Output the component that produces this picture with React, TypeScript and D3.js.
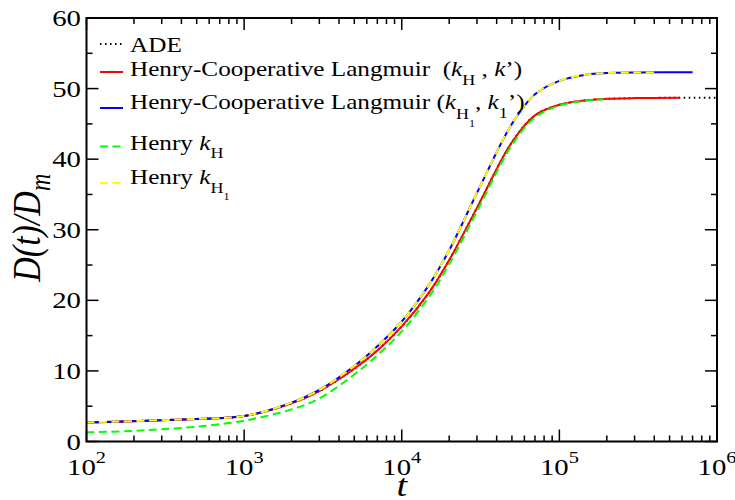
import React from 'react';
import * as d3 from 'd3';

const width = 735;
const height = 500;
const plot = { left: 86.5, right: 717, top: 18, bottom: 441.5 };
const stretch = 1.2;
const serif = '"Liberation Serif", "Times New Roman", serif';

// x: time t (log), y: D(t)/Dm
const tAde = [100, 500, 1000, 2000, 3000, 5000, 7000, 1e4, 1.5e4, 2e4, 3e4, 5e4, 7e4, 1e5, 1.5e5, 2e5, 3e5, 5.8e5, 1e6];
const dAde = [2.7, 3.2, 3.6, 5.4, 7.15, 10.3, 12.9, 16.3, 21.2, 25.7, 33.1, 42.4, 46.2, 47.7, 48.35, 48.55, 48.65, 48.7, 48.7];

const tRed = [100, 500, 1000, 2000, 3000, 5000, 7000, 1e4, 1.5e4, 2e4, 3e4, 5e4, 7e4, 1e5, 1.5e5, 2e5, 3e5, 5.8e5];
const dRed = [2.7, 3.2, 3.6, 5.4, 7.15, 10.3, 12.9, 16.3, 21.2, 25.7, 33.1, 42.4, 46.2, 47.7, 48.35, 48.55, 48.65, 48.7];

const tBlue = [100, 500, 1000, 2000, 3000, 5000, 7000, 1e4, 1.5e4, 2e4, 3e4, 5e4, 7e4, 1e5, 1.5e5, 2e5, 3e5, 7e5];
const dBlue = [2.7, 3.2, 3.6, 5.5, 7.3, 10.7, 13.5, 17.0, 22.3, 27.1, 35.2, 45.0, 49.2, 51.1, 52.0, 52.2, 52.28, 52.3];

const tGreen = [100, 200, 300, 500, 1000, 2000, 3000, 5000, 7000, 1e4, 1.5e4, 2e4, 3e4, 5e4, 7e4, 1e5, 1.5e5, 1.9e5];
const dGreen = [1.3, 1.5, 1.75, 2.1, 2.95, 4.55, 6.1, 9.5, 12.2, 15.6, 20.6, 25.1, 32.6, 42.0, 45.9, 47.6, 48.3, 48.5];

const tYellow = [100, 500, 1000, 2000, 3000, 5000, 7000, 1e4, 1.5e4, 2e4, 3e4, 5e4, 7e4, 1e5, 1.5e5, 2e5, 3e5, 4.2e5];
const dYellow = [2.7, 3.2, 3.6, 5.5, 7.3, 10.7, 13.5, 17.0, 22.3, 27.1, 35.2, 45.0, 49.2, 51.1, 52.0, 52.2, 52.28, 52.29];

const xMajor = [1e2, 1e3, 1e4, 1e5, 1e6];
const xExponents = ['2', '3', '4', '5', '6'];
const yMajor = [0, 10, 20, 30, 40, 50, 60];
const yMinor = [5, 15, 25, 35, 45, 55];

const series = [
  { name: 'ADE', t: tAde, d: dAde, color: '#000000', dash: '1.5,3.5' },
  { name: 'hcl1', t: tRed, d: dRed, color: '#ff0000', dash: null },
  { name: 'hcl2', t: tBlue, d: dBlue, color: '#0000ff', dash: null },
  { name: 'henry1', t: tGreen, d: dGreen, color: '#00ff00', dash: '8,4.5' },
  { name: 'henry2', t: tYellow, d: dYellow, color: '#ffff00', dash: '8,4.5' },
];

function SText({ x, y, anchor = 'start', size, italic = false, children }) {
  return (
    <g transform={`translate(${x},${y}) scale(${stretch},1)`}>
      <text textAnchor={anchor} fontSize={size} fontFamily={serif}
        fontStyle={italic ? 'italic' : 'normal'} fill="#000" style={{ whiteSpace: 'pre' }}>
        {children}
      </text>
    </g>
  );
}

export default function App() {
  const x = d3.scaleLog().domain([1e2, 1e6]).range([plot.left, plot.right]);
  const y = d3.scaleLinear().domain([0, 60]).range([plot.bottom, plot.top]);

  const line = d3.line<[number, number]>()
    .x((p) => x(p[0]))
    .y((p) => y(p[1]))
    .curve(d3.curveCatmullRom.alpha(0.5));

  const xMinor: number[] = [];
  xMajor.slice(0, -1).forEach((dec) => {
    for (let k = 2; k <= 9; k++) xMinor.push(dec * k);
  });

  const major = 12;
  const minor = 6;

  // legend
  const lx0 = 100;
  const lx1 = 123;
  const tx = 130;
  const legend = [
    { color: '#000', dash: '1.5,3.5', ly: 44, by: 52, label: <tspan>ADE</tspan> },
    {
      color: '#ff0000', dash: null, ly: 72, by: 76,
      label: (
        <>
          <tspan>Henry-Cooperative Langmuir  (</tspan>
          <tspan fontStyle="italic">k</tspan>
          <tspan fontSize={15} dy={9}>H</tspan>
          <tspan dy={-9}> , </tspan>
          <tspan fontStyle="italic">k</tspan>
          <tspan>’)</tspan>
        </>
      ),
    },
    {
      color: '#0000ff', dash: null, ly: 108, by: 108.5,
      label: (
        <>
          <tspan>Henry-Cooperative Langmuir (</tspan>
          <tspan fontStyle="italic">k</tspan>
          <tspan fontSize={15} dy={10}>H</tspan>
          <tspan fontSize={10} dy={9}>1</tspan>
          <tspan dy={-19}>, </tspan>
          <tspan fontStyle="italic">k</tspan>
          <tspan fontSize={15} dy={9}>1</tspan>
          <tspan dy={-9}>’)</tspan>
        </>
      ),
    },
    {
      color: '#00ff00', dash: '8,4.5', ly: 146.5, by: 150,
      label: (
        <>
          <tspan>Henry </tspan>
          <tspan fontStyle="italic">k</tspan>
          <tspan fontSize={15} dy={8}>H</tspan>
        </>
      ),
    },
    {
      color: '#ffff00', dash: '8,4.5', ly: 183, by: 183.5,
      label: (
        <>
          <tspan>Henry </tspan>
          <tspan fontStyle="italic">k</tspan>
          <tspan fontSize={15} dy={9}>H</tspan>
          <tspan fontSize={10} dy={8}>1</tspan>
        </>
      ),
    },
  ];

  return (
    <svg width={width} height={height} style={{ position: 'absolute', left: 0, top: 0, background: '#fff' }}>
      <defs>
        <clipPath id="plotClip">
          <rect x={plot.left} y={plot.top} width={plot.right - plot.left} height={plot.bottom - plot.top} />
        </clipPath>
      </defs>
      <rect x={0} y={0} width={width} height={height} fill="#fff" />

      {/* curves */}
      <g clipPath="url(#plotClip)">
        {series.map((s) => (
          <path key={s.name}
            d={line(s.t.map((t, i) => [t, s.d[i]] as [number, number])) || ''}
            fill="none" stroke={s.color} strokeWidth={2}
            strokeDasharray={s.dash || undefined} />
        ))}
      </g>

      {/* frame */}
      <rect x={plot.left} y={plot.top} width={plot.right - plot.left} height={plot.bottom - plot.top}
        fill="none" stroke="#000" strokeWidth={2} />

      {/* x ticks */}
      {xMajor.map((v) => (
        <g key={'xM' + v} stroke="#000" strokeWidth={1.5}>
          <line x1={x(v)} x2={x(v)} y1={plot.bottom} y2={plot.bottom - major} />
          <line x1={x(v)} x2={x(v)} y1={plot.top} y2={plot.top + major} />
        </g>
      ))}
      {xMinor.map((v) => (
        <g key={'xm' + v} stroke="#000" strokeWidth={1.5}>
          <line x1={x(v)} x2={x(v)} y1={plot.bottom} y2={plot.bottom - minor} />
          <line x1={x(v)} x2={x(v)} y1={plot.top} y2={plot.top + minor} />
        </g>
      ))}
      {/* y ticks */}
      {yMajor.map((v) => (
        <g key={'yM' + v} stroke="#000" strokeWidth={1.5}>
          <line x1={plot.left} x2={plot.left + major} y1={y(v)} y2={y(v)} />
          <line x1={plot.right} x2={plot.right - major} y1={y(v)} y2={y(v)} />
        </g>
      ))}
      {yMinor.map((v) => (
        <g key={'ym' + v} stroke="#000" strokeWidth={1.5}>
          <line x1={plot.left} x2={plot.left + minor} y1={y(v)} y2={y(v)} />
          <line x1={plot.right} x2={plot.right - minor} y1={y(v)} y2={y(v)} />
        </g>
      ))}

      {/* tick labels */}
      {yMajor.map((v) => (
        <SText key={'yl' + v} x={81} y={y(v) + 8} anchor="end" size={24}>{String(v)}</SText>
      ))}
      {xMajor.map((v, i) => (
        <SText key={'xl' + v} x={x(v)} y={475} anchor="middle" size={24}>
          <tspan>10</tspan>
          <tspan fontSize={17} dy={-12}>{xExponents[i]}</tspan>
        </SText>
      ))}

      {/* axis titles */}
      <SText x={(plot.left + plot.right) / 2} y={496} anchor="middle" size={32} italic>t</SText>
      <g transform={`translate(40,${(plot.top + plot.bottom) / 2 - 2}) scale(${stretch},1) rotate(-90)`}>
        <text textAnchor="middle" fontSize={34} fontFamily={serif} fontStyle="italic" fill="#000">
          <tspan>D</tspan>
          <tspan>(</tspan>
          <tspan>t</tspan>
          <tspan>)/</tspan>
          <tspan>D</tspan>
          <tspan fontSize={24} dy={8}>m</tspan>
        </text>
      </g>

      {/* legend */}
      {legend.map((l, i) => (
        <g key={'lg' + i}>
          <line x1={lx0} x2={lx1} y1={l.ly} y2={l.ly} stroke={l.color} strokeWidth={2}
            strokeDasharray={l.dash || undefined} />
          <SText x={tx} y={l.by} size={21}>{l.label}</SText>
        </g>
      ))}
    </svg>
  );
}
